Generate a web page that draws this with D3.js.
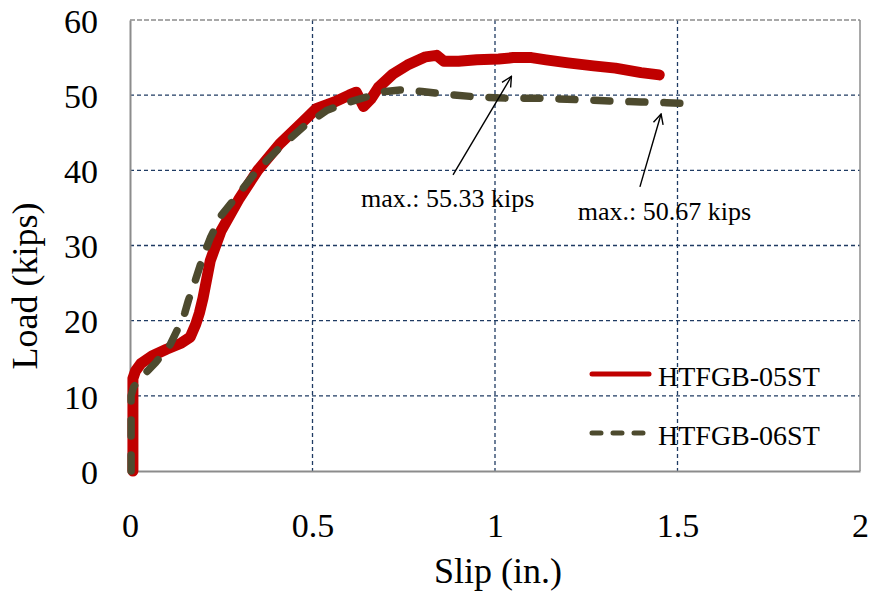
<!DOCTYPE html>
<html><head><meta charset="utf-8">
<script src="https://cdn.jsdelivr.net/npm/d3@7"></script>
<style>body{margin:0;background:#fff}svg{display:block}text{font-family:"Liberation Serif","Times New Roman",serif;fill:#000}</style>
</head><body><svg id="c" width="871" height="598"></svg>
<script>
const xTicks = [0, 0.5, 1, 1.5, 2];
const yTicks = [0, 10, 20, 30, 40, 50, 60];
const xTickLabels = ["0", "0.5", "1", "1.5", "2"];
const seriesNames = ["HTFGB-05ST", "HTFGB-06ST"];
const slip05 = [0.008,0.008,0.015,0.03,0.06,0.1,0.14,0.165,0.18,0.19,0.2,0.22,0.25,0.3,0.35,0.41,0.47,0.51,0.56,0.6,0.62,0.64,0.66,0.68,0.72,0.76,0.81,0.84,0.86,0.9,0.95,1.01,1.05,1.1,1.14,1.2,1.27,1.33,1.4,1.45];
const load05 = [0,12.3,13.3,14.3,15.3,16.2,17,17.8,19.5,21,23,28,32,36.3,40,43.5,46.3,48.2,49.1,50,50.4,48.5,49.5,51,52.8,54,55.1,55.3,54.5,54.5,54.7,54.8,55,55,54.7,54.3,53.9,53.6,53,52.7];
const slip06 = [0.003,0.003,0.01,0.036,0.07,0.11,0.128,0.15,0.16,0.18,0.2,0.22,0.25,0.3,0.348,0.41,0.475,0.54,0.595,0.65,0.7,0.74,0.8,0.85,0.94,1.03,1.12,1.23,1.32,1.4,1.47,1.55];
const load06 = [0,10,11.2,12.7,14.4,16.8,18.6,21,22.7,25.5,28.5,31,34,37,40,43,45.8,48,49,49.8,50.5,50.7,50.5,50.2,49.8,49.6,49.6,49.4,49.2,49.1,49,48.8];
const annotations = [
  {text: "max.: 55.33 kips", tx: 0.633, ty: 35.1, ax0: 0.885, ay0: 39.4, ax1: 1.045, ay1: 52.5},
  {text: "max.: 50.67 kips", tx: 1.227, ty: 33.4, ax0: 1.397, ay0: 37.8, ax1: 1.455, ay1: 47.5}
];

const svg = d3.select("#c");
const L = 130, R = 860, T = 20, B = 471;
const x = d3.scaleLinear().domain([0, 2]).range([L, R]);
const y = d3.scaleLinear().domain([0, 60]).range([B, T]);
const grid = "#1f3b63";

// gridlines
svg.append("g").selectAll("line").data(yTicks.filter(v => v > 0 && v < 60)).join("line")
  .attr("x1", L).attr("x2", R).attr("y1", d => y(d)).attr("y2", d => y(d))
  .attr("stroke", grid).attr("stroke-width", 1.3).attr("stroke-dasharray", "4,3");
svg.append("g").selectAll("line").data(xTicks.filter(v => v > 0 && v < 2)).join("line")
  .attr("x1", d => x(d)).attr("x2", d => x(d)).attr("y1", T).attr("y2", B)
  .attr("stroke", grid).attr("stroke-width", 1.3).attr("stroke-dasharray", "4,3");
// border
svg.append("line").attr("x1", L).attr("x2", R).attr("y1", T).attr("y2", T).attr("stroke", "#8c8c8c").attr("stroke-width", 1.5).attr("stroke-dasharray", "5,2");
svg.append("line").attr("x1", R).attr("x2", R).attr("y1", T).attr("y2", B).attr("stroke", "#8c8c8c").attr("stroke-width", 1.5);

// axes
const xAxis = d3.axisBottom(x).tickValues(xTicks).tickFormat((d, i) => xTickLabels[i]).tickSize(0).tickPadding(42);
const gx = svg.append("g").attr("transform", `translate(0,${B})`).call(xAxis);
gx.select(".domain").attr("stroke", "#8c8c8c").attr("stroke-width", 2);
gx.selectAll("text").attr("font-size", 34).attr("font-family", "Liberation Serif").attr("fill", "#000");
const yAxis = d3.axisLeft(y).tickValues(yTicks).tickSize(0).tickPadding(32);
const gy = svg.append("g").attr("transform", `translate(${L},0)`).call(yAxis);
gy.select(".domain").attr("stroke", "#8c8c8c").attr("stroke-width", 2);
gy.selectAll("text").attr("font-size", 34).attr("font-family", "Liberation Serif").attr("fill", "#000").attr("dy", "0.36em");

// series
const lineC = d3.line().x(d => x(d[0])).y(d => y(d[1])).curve(d3.curveLinear);
svg.append("path").datum(slip05.map((s, i) => [s, load05[i]]))
  .attr("d", lineC).attr("fill", "none").attr("stroke", "#c00000").attr("stroke-width", 11)
  .attr("stroke-linejoin", "round").attr("stroke-linecap", "round");
svg.append("path").datum(slip06.map((s, i) => [s, load06[i]]))
  .attr("d", lineC).attr("fill", "none").attr("stroke", "#4d4a2e").attr("stroke-width", 7.5)
  .attr("stroke-linejoin", "round").attr("stroke-linecap", "round").attr("stroke-dasharray", "16,19");

// annotations
svg.append("defs").append("marker").attr("id", "ah").attr("viewBox", "0 0 12 12").attr("refX", 11).attr("refY", 6)
  .attr("markerWidth", 12).attr("markerHeight", 12).attr("markerUnits", "userSpaceOnUse").attr("orient", "auto")
  .append("path").attr("d", "M1,1 L11,6 L1,11").attr("fill", "none").attr("stroke", "#000").attr("stroke-width", 1.4);
annotations.forEach(a => {
  svg.append("line").attr("x1", x(a.ax0)).attr("y1", y(a.ay0)).attr("x2", x(a.ax1)).attr("y2", y(a.ay1))
    .attr("stroke", "#000").attr("stroke-width", 1.4).attr("marker-end", "url(#ah)");
  svg.append("text").attr("x", x(a.tx)).attr("y", y(a.ty)).attr("font-size", 26).text(a.text);
});

// legend
const lg = svg.append("g");
lg.append("line").attr("x1", 592).attr("x2", 649).attr("y1", 374).attr("y2", 374).attr("stroke", "#c00000").attr("stroke-width", 5).attr("stroke-linecap", "round");
lg.append("line").attr("x1", 592).attr("x2", 647).attr("y1", 433).attr("y2", 433).attr("stroke", "#4d4a2e").attr("stroke-width", 5).attr("stroke-linecap", "round").attr("stroke-dasharray", "9,12");
lg.append("text").attr("x", 658).attr("y", 386).attr("font-size", 28).text(seriesNames[0]);
lg.append("text").attr("x", 658).attr("y", 445).attr("font-size", 28).text(seriesNames[1]);

// axis titles
svg.append("text").attr("x", 498).attr("y", 583).attr("text-anchor", "middle").attr("font-size", 36).text("Slip (in.)");
svg.append("text").attr("transform", "translate(37,286) rotate(-90)").attr("text-anchor", "middle").attr("font-size", 36).text("Load (kips)");
</script></body></html>
